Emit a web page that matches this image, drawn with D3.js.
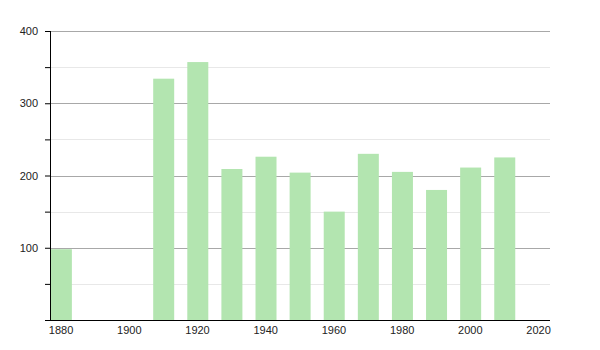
<!DOCTYPE html>
<html>
<head>
<meta charset="utf-8">
<script src="https://cdn.jsdelivr.net/npm/d3@7"></script>
<style>
  body { margin: 0; background: #fff; }
  text { font-family: "Liberation Sans", Arial, sans-serif; }
</style>
</head>
<body>
<div id="chart"></div>
<script>
// Data
const years = [1880, 1910, 1920, 1930, 1940, 1950, 1960, 1970, 1980, 1990, 2000, 2010];
const values = [98, 334, 357, 209, 226, 204, 150, 230, 205, 180, 211, 225];
const xTicks = [1880, 1900, 1920, 1940, 1960, 1980, 2000, 2020];
const yMajor = [0, 100, 200, 300, 400];
const yMinor = [50, 150, 250, 350];

const width = 600, height = 350;
const margin = { top: 31, right: 50, bottom: 30, left: 50 };
const w = width - margin.left - margin.right;
const h = height - margin.top - margin.bottom;

const svg = d3.select("#chart").append("svg")
  .attr("width", width)
  .attr("height", height);

const g = svg.append("g")
  .attr("transform", `translate(${margin.left},${margin.top})`);

const x = d3.scaleLinear().domain([1876.9, 2023.5]).range([0, w]);
const y = d3.scaleLinear().domain([0, 400]).range([h, 0]);

// Minor gridlines
g.selectAll(".minor")
  .data(yMinor)
  .enter().append("line")
  .attr("x1", 0).attr("x2", w)
  .attr("y1", d => Math.round(y(d)) + 0.5)
  .attr("y2", d => Math.round(y(d)) + 0.5)
  .attr("stroke", "#e8e8e8");

// Major gridlines
g.selectAll(".major")
  .data(yMajor.filter(d => d > 0))
  .enter().append("line")
  .attr("x1", 0).attr("x2", w)
  .attr("y1", d => Math.round(y(d)) + 0.5)
  .attr("y2", d => Math.round(y(d)) + 0.5)
  .attr("stroke", "#a8a8a8");

// Bars
const barW = 21;
g.selectAll(".bar")
  .data(years.map((yr, i) => ({ yr, v: values[i] })))
  .enter().append("rect")
  .attr("x", d => Math.max(1, x(d.yr) - barW / 2 + 0.8))
  .attr("y", d => y(d.v))
  .attr("width", d => Math.min(barW, x(d.yr) + barW / 2 + 0.8 - 1))
  .attr("height", d => h - y(d.v))
  .attr("fill", "#b3e5b0");

// Y axis
const yAxis = g.append("g")
  .call(d3.axisLeft(y).tickValues(yMajor.concat(yMinor))
    .tickSize(5)
    .tickFormat(d => (d % 100 === 0 && d > 0) ? d : ""));
yAxis.select(".domain").attr("stroke", "#000").attr("d", `M0.5,0V${h}`);
yAxis.selectAll("text").attr("font-size", 11).attr("fill", "#222").attr("x", -12);

// X axis
const xAxis = g.append("g")
  .attr("transform", `translate(0,${h})`)
  .call(d3.axisBottom(x).tickValues(xTicks).tickSize(0).tickFormat(d3.format("d")));
xAxis.select(".domain").attr("stroke", "#000").attr("stroke-width", 1.2).attr("d", `M0,0.5H${w}`);
xAxis.selectAll("text").attr("font-size", 11).attr("fill", "#222").attr("dy", "1em");
</script>
</body>
</html>
